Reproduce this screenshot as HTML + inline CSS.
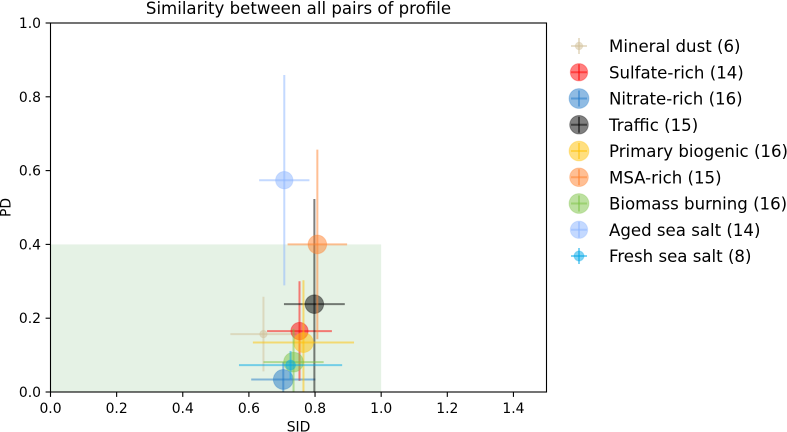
<!DOCTYPE html>
<html>
<head>
<meta charset="utf-8">
<style>
html,body{margin:0;padding:0;background:#fff;}
svg{display:block;font-family:"DejaVu Sans","Liberation Sans",sans-serif;fill:#000;}
</style>
</head>
<body>
<svg id="chart" width="787" height="432" viewBox="0 0 787 432" xmlns="http://www.w3.org/2000/svg">
<defs><clipPath id="plot-clip"><rect x="50.5" y="23" width="496" height="369"/></clipPath></defs>
</svg>
<script>
const categories = ["Mineral dust","Sulfate-rich","Nitrate-rich","Traffic","Primary biogenic","MSA-rich","Biomass burning","Aged sea salt","Fresh sea salt"];
const counts = [6,14,16,15,16,15,16,14,8];
const sidValues = [0.644,0.753,0.704,0.798,0.765,0.807,0.735,0.707,0.726];
const sidErrors = [0.100,0.098,0.097,0.092,0.153,0.090,0.091,0.076,0.156];
const pdValues = [0.157,0.165,0.034,0.238,0.134,0.400,0.081,0.574,0.073];
const pdErrors = [0.101,0.135,0.047,0.285,0.169,0.257,0.090,0.285,0.038];
const seriesColors = ["#d1bf97","#ff0000","#1f78c8","#000000","#ffc000","#ff7f2a","#79c142","#8ab4ff","#00a8e8"];
const xTicks = [0,0.2,0.4,0.6,0.8,1.0,1.2,1.4];
const yTicks = [0,0.2,0.4,0.6,0.8,1.0];
const xDomain = [0,1.5];
const yDomain = [0,1];
const acceptableRegion = {sidMax:1,pdMax:0.4};

const NS = "http://www.w3.org/2000/svg";
const svg = document.getElementById("chart");
const L=50.5,R=546.5,T=23,B=392;
const xScale = v => L+(v-xDomain[0])/(xDomain[1]-xDomain[0])*(R-L);
const yScale = v => B-(v-yDomain[0])/(yDomain[1]-yDomain[0])*(B-T);
const radius = n => n*0.62;
function mk(tag,attrs,parent){
  const el=document.createElementNS(NS,tag);
  for(const k in attrs) el.setAttribute(k,attrs[k]);
  (parent||svg).appendChild(el);
  return el;
}
function txt(content,attrs,parent){
  const el=mk("text",attrs,parent);
  el.textContent=content;
  return el;
}

const region=mk("rect",{x:xScale(0),y:yScale(acceptableRegion.pdMax),width:xScale(acceptableRegion.sidMax)-xScale(0),height:yScale(0)-yScale(acceptableRegion.pdMax),fill:"#008000","fill-opacity":0.1});



const plotG=mk("g",{"clip-path":"url(#plot-clip)"});



categories.forEach((name,i)=>{
  const g=mk("g",{},plotG);
  
  
  const c=seriesColors[i];
  mk("line",{x1:xScale(sidValues[i]-sidErrors[i]),x2:xScale(sidValues[i]+sidErrors[i]),y1:yScale(pdValues[i]),y2:yScale(pdValues[i]),stroke:c,"stroke-width":2,"stroke-opacity":0.5},g);
  mk("line",{x1:xScale(sidValues[i]),x2:xScale(sidValues[i]),y1:yScale(pdValues[i]-pdErrors[i]),y2:yScale(pdValues[i]+pdErrors[i]),stroke:c,"stroke-width":2,"stroke-opacity":0.5},g);
  mk("circle",{cx:xScale(sidValues[i]),cy:yScale(pdValues[i]),r:radius(counts[i]),fill:c,"fill-opacity":0.5,stroke:c,"stroke-opacity":0.3,"stroke-width":1},g);
});

const axesG=mk("g",{});


const frame=mk("rect",{x:L,y:T,width:R-L,height:B-T,fill:"none",stroke:"#000","stroke-width":1.1},axesG);



xTicks.forEach(t=>{
  const x=xScale(t);
  const tick=mk("line",{x1:x,x2:x,y1:B,y2:B+4.9,stroke:"#000","stroke-width":1.1},axesG);
  
  
  const lab=txt(t.toFixed(1),{x:x,y:B+21,"font-size":13.9,"text-anchor":"middle"},axesG);
  
  
});
yTicks.forEach(t=>{
  const y=yScale(t);
  const tick=mk("line",{x1:L-4.9,x2:L,y1:y,y2:y,stroke:"#000","stroke-width":1.1},axesG);
  
  
  const lab=txt(t.toFixed(1),{x:L-9.5,y:y+5,"font-size":13.9,"text-anchor":"end"},axesG);
  
  
});

const legendG=mk("g",{});


categories.forEach((name,i)=>{
  const y=46+i*26.25, x=579, c=seriesColors[i];
  const g=mk("g",{},legendG);
  
  
  mk("line",{x1:x-8,x2:x+8,y1:y,y2:y,stroke:c,"stroke-width":2,"stroke-opacity":0.5},g);
  mk("line",{x1:x,x2:x,y1:y-8,y2:y+8,stroke:c,"stroke-width":2,"stroke-opacity":0.5},g);
  mk("circle",{cx:x,cy:y,r:radius(counts[i]),fill:c,"fill-opacity":0.5,stroke:c,"stroke-opacity":0.3,"stroke-width":1},g);
  txt(name+" ("+counts[i]+")",{x:609,y:y+6,"font-size":16.6},g);
});
</script>
<svg style="position:absolute;left:0;top:0;pointer-events:none" width="787" height="432" xmlns="http://www.w3.org/2000/svg" font-family="DejaVu Sans, Liberation Sans, sans-serif">
<text x="298.5" y="14" font-size="16.6" text-anchor="middle">Similarity between all pairs of profile</text>
<text x="298.5" y="431.5" font-size="13.9" text-anchor="middle">SID</text>
<text transform="translate(10.5,207.5) rotate(-90)" font-size="13.9" text-anchor="middle">PD</text>
</svg>
</body>
</html>
